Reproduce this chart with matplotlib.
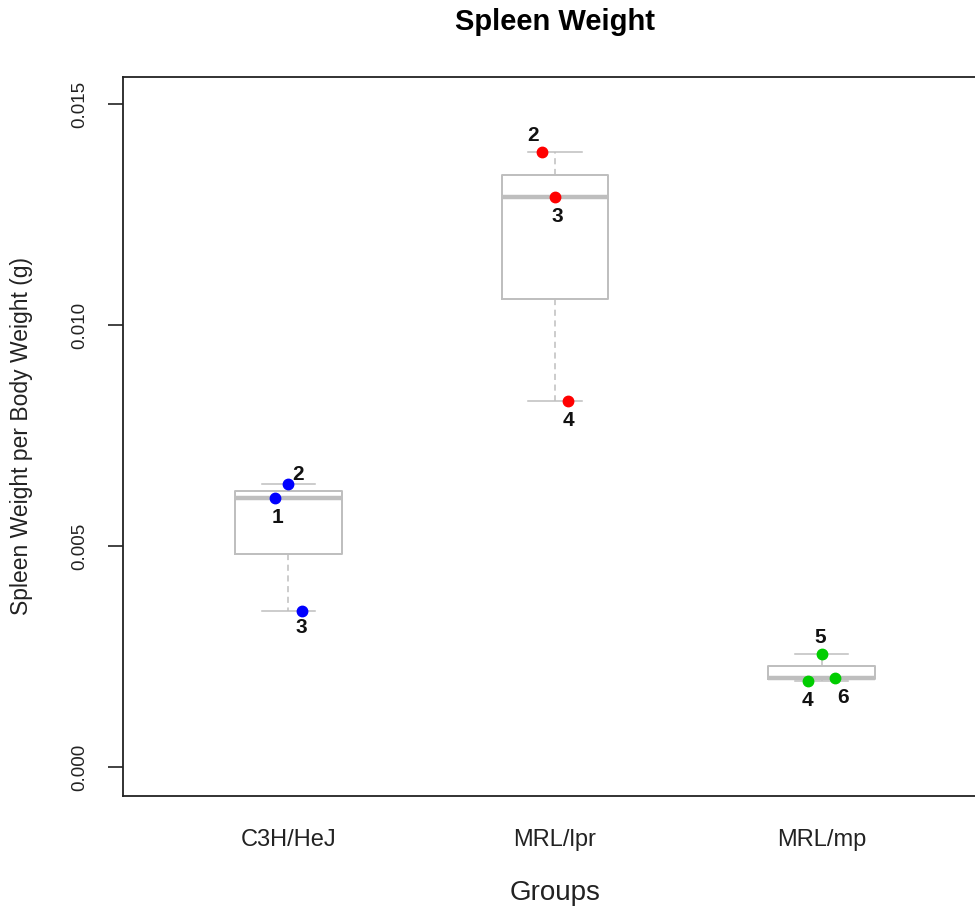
import matplotlib.pyplot as plt
import numpy as np

plt.rcParams['font.family'] = ['Liberation Sans', 'DejaVu Sans']

# spleen weight / body weight per mouse, grouped by strain
groups = ['C3H/HeJ', 'MRL/lpr', 'MRL/mp']
c3h_vals = [0.00610, 0.00640, 0.00354]
lpr_vals = [0.01391, 0.01289, 0.00829]
mp_vals = [0.00196, 0.00256, 0.00203]
c3h_ids = ['1', '2', '3']
lpr_ids = ['2', '3', '4']
mp_ids = ['4', '5', '6']

vals = [c3h_vals, lpr_vals, mp_vals]
ids = [c3h_ids, lpr_ids, mp_ids]
colors = ['#0000FF', '#FF0000', '#00CD00']

# horizontal spread of the points inside each group
jitter = [-0.05, 0.0, 0.05]
# where the id labels sit relative to each point (points)
label_offsets = [
    [(2, -14), (7, 7), (0, -12)],
    [(-6, 12), (2, -14), (0, -14)],
    [(-1, -14), (-1, 12), (6, -14)],
]

fig = plt.figure(figsize=(9.75, 9.11), dpi=100)
ax = fig.add_axes([123/975, 1 - 795.5/911, 864/975, 718.5/911])

gray = '#BEBEBE'
ax.boxplot(vals, positions=[1, 2, 3], widths=0.4, showfliers=False,
           capwidths=0.2,
           boxprops=dict(color=gray, linewidth=1.4),
           medianprops=dict(color=gray, linewidth=3.2),
           whiskerprops=dict(color=gray, linewidth=1.1, linestyle=(0, (4, 3))),
           capprops=dict(color=gray, linewidth=1.1))

for i in range(len(groups)):
    x = np.array(jitter) + i + 1
    ax.plot(x, vals[i], 'o', color=colors[i], markersize=7.5, zorder=5)
    for j in range(len(vals[i])):
        ax.annotate(ids[i][j], (x[j], vals[i][j]), xytext=label_offsets[i][j],
                    textcoords='offset points', ha='center', va='center',
                    fontsize=15, fontweight='bold', color='#111111')

ax.set_xlim(0.38, 3.62)
ax.set_ylim(-0.000633, 0.01561)

ax.set_xticks([1, 2, 3])
ax.set_xticklabels(groups, fontsize=17, color='#222222')
ax.tick_params(axis='x', length=0, pad=32)
for lab in ax.get_xticklabels():
    lab.set_va('center')

yt = [0.0, 0.005, 0.010, 0.015]
ax.set_yticks(yt)
ax.set_yticklabels(['%.3f' % v for v in yt], fontsize=13.5, color='#222222')
ax.tick_params(axis='y', length=10.8, width=1.2, color='#222222', pad=20)
for lab in ax.get_yticklabels():
    lab.set_rotation(90)
    lab.set_ha('center')
    lab.set_va('center')

for s in ['left', 'top', 'bottom']:
    ax.spines[s].set_color('#222222')
    ax.spines[s].set_linewidth(1.3)
ax.spines['right'].set_visible(False)

ax.set_title('Spleen Weight', fontsize=21, fontweight='bold', y=1.0765, pad=0, va='center')
ax.set_xlabel('Groups', fontsize=20, va='center', color='#222222')
ax.xaxis.set_label_coords(0.5, -0.1357)
ax.set_ylabel('Spleen Weight per Body Weight (g)', fontsize=16.5, va='center', color='#222222')
ax.yaxis.set_label_coords(-0.117, 0.5)

fig.savefig('out.png', dpi=100)
